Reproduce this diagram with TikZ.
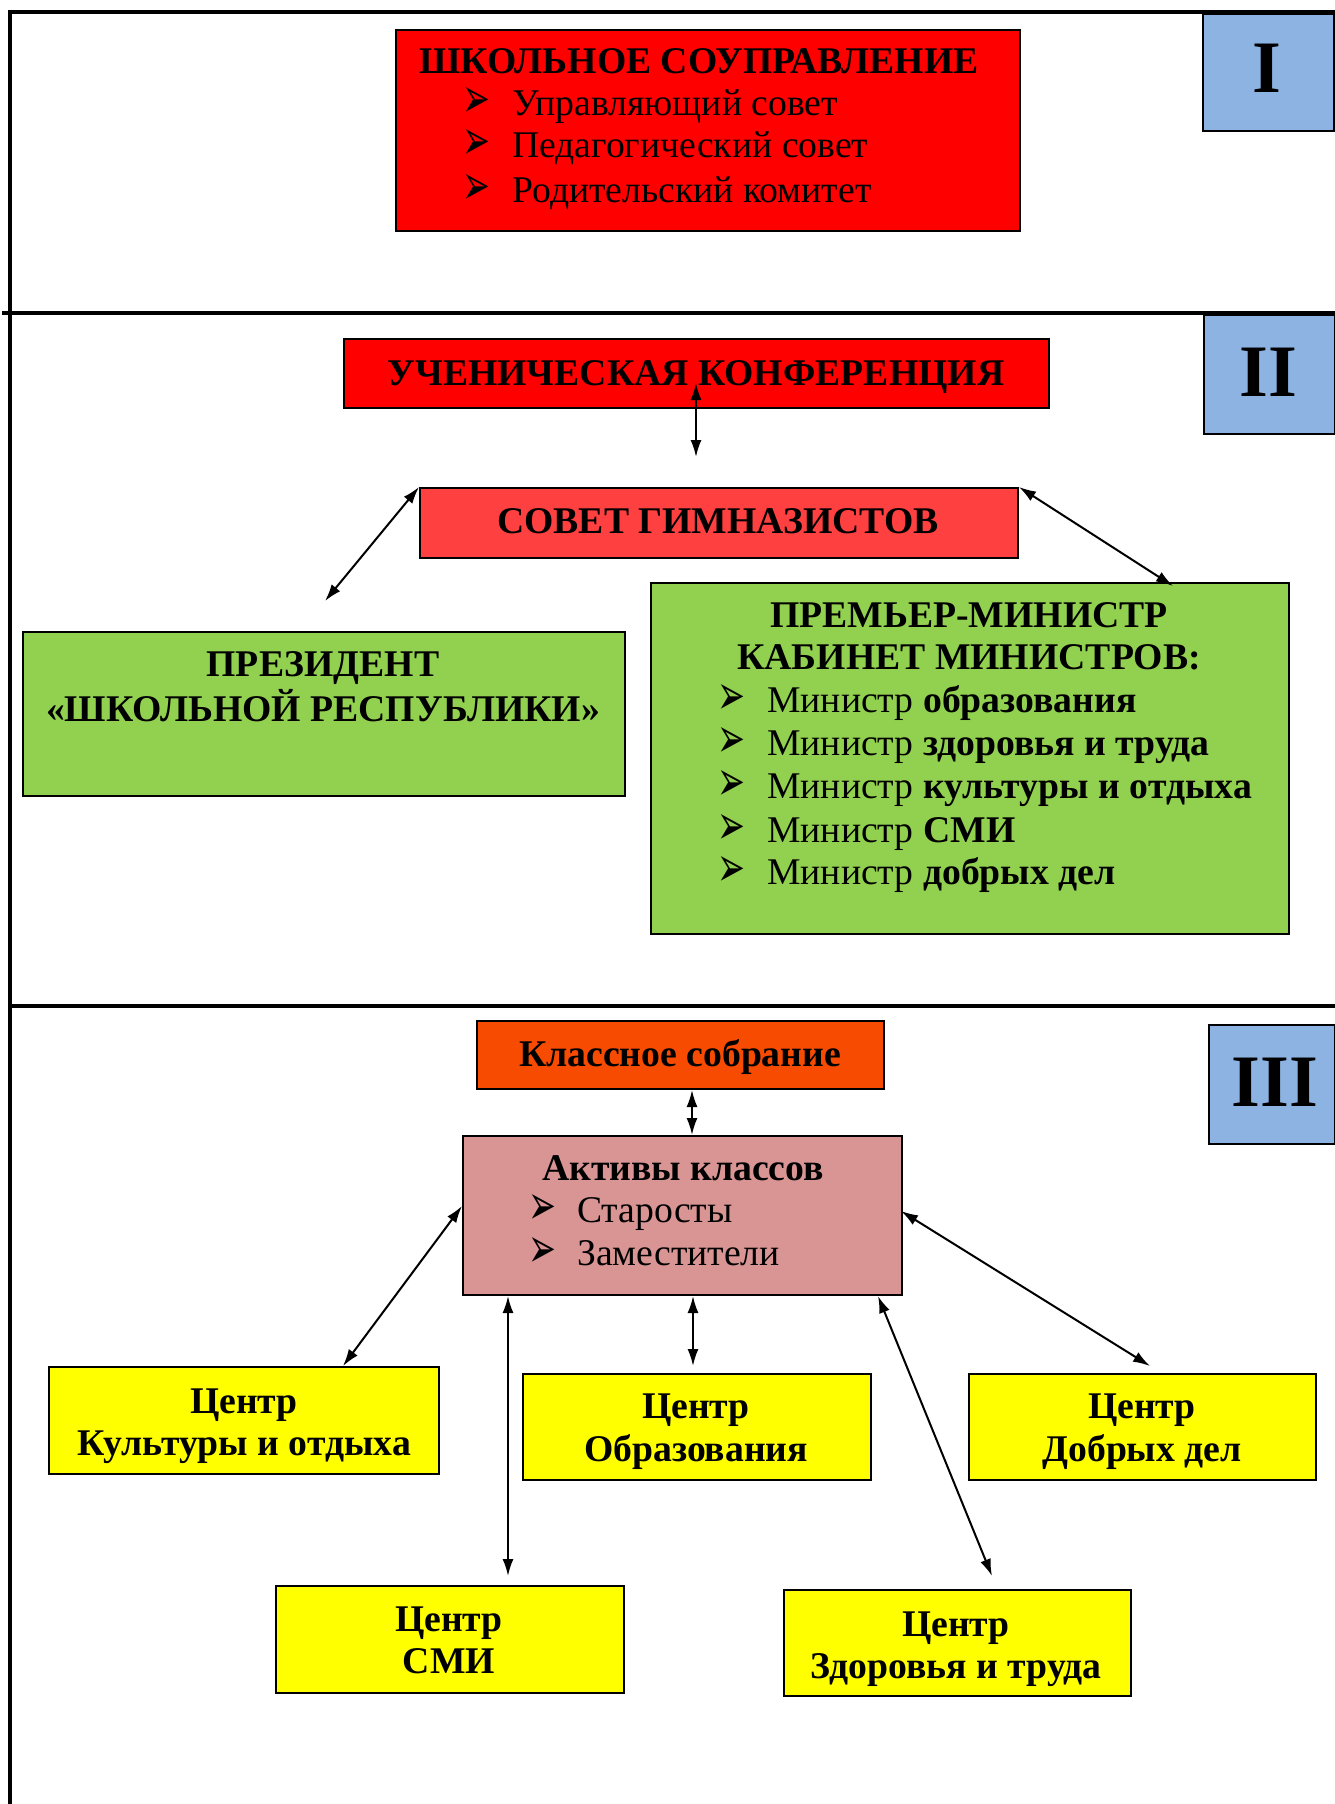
\documentclass[tikz,border=0pt]{standalone}
\usepackage{fontspec}
\setmainfont{Liberation Serif}
\newfontfamily\dingfont{DejaVu Sans}
\usetikzlibrary{arrows.meta}
\definecolor{cred}{HTML}{FF0000}
\definecolor{csovet}{HTML}{FF4040}
\definecolor{cgreen}{HTML}{92D050}
\definecolor{corange}{HTML}{F64B00}
\definecolor{cpink}{HTML}{D99594}
\definecolor{cyel}{HTML}{FFFF00}
\definecolor{cblue}{HTML}{8DB3E2}
\newcommand{\mybul}{\resizebox{28pt}{30pt}{\dingfont ➢}}
\begin{document}
\begin{tikzpicture}[x=1pt,y=-1pt,
  bx/.style={draw=black, line width=2pt, inner sep=0pt, anchor=north west},
  txt/.style={inner sep=0pt, anchor=base, font=\fontsize{37.7}{44}\selectfont},
  ltxt/.style={inner sep=0pt, anchor=base west, font=\fontsize{37.7}{44}\selectfont},
  bul/.style={inner sep=0pt, anchor=base west},
  num/.style={inner sep=0pt, anchor=base, font=\fontsize{74}{80}\selectfont\bfseries},
  frame/.style={line width=4.5pt},
  arr/.style={line width=2pt, {Latex[length=17pt,width=11pt]}-{Latex[length=17pt,width=11pt]}}]
\useasboundingbox (0,0) rectangle (1335,1804);
% frame
\draw[frame] (10,1804) -- (10,12) -- (1335,12);
\draw[frame] (2,313) -- (1335,313);
\draw[frame] (10,1006) -- (1335,1006);
% level numbers
\node[bx, fill=cblue, minimum width=131pt, minimum height=117pt] (n1) at (1202,13) {};
\node[num] (n1t) at (1267,92) {I};
\node[bx, fill=cblue, minimum width=131pt, minimum height=119pt] (n2) at (1203,314) {};
\node[num] (n2t) at (1268,396) {II};
\node[bx, fill=cblue, minimum width=126pt, minimum height=119pt] (n3) at (1208,1024) {};
\node[num] (n3t) at (1275,1106) {III};
% level I
\node[bx, fill=cred, minimum width=624pt, minimum height=201pt] (shk) at (395,29) {};
\node[txt] (shkt) at (699,73) {\bfseries ШКОЛЬНОЕ СОУПРАВЛЕНИЕ};
\node[bul] (shkb1) at (462,117) {\mybul};
\node[ltxt] (shk1) at (512,115) {Управляющий совет};
\node[bul] (shkb2) at (462,159) {\mybul};
\node[ltxt] (shk2) at (512,157) {Педагогический совет};
\node[bul] (shkb3) at (462,204) {\mybul};
\node[ltxt] (shk3) at (512,202) {Родительский комитет};
% level II
\node[bx, fill=cred, minimum width=705pt, minimum height=69pt] (uk) at (343,338) {};
\node[txt] (ukt) at (696,385) {\bfseries УЧЕНИЧЕСКАЯ КОНФЕРЕНЦИЯ};
\node[bx, fill=csovet, minimum width=598pt, minimum height=70pt] (sov) at (419,487) {};
\node[txt] (sovt) at (718,533) {\bfseries СОВЕТ ГИМНАЗИСТОВ};
\node[bx, fill=cgreen, minimum width=602pt, minimum height=164pt] (pres) at (22,631) {};
\node[txt] (prest1) at (323,676) {\bfseries ПРЕЗИДЕНТ};
\node[txt] (prest2) at (323,721) {\bfseries «ШКОЛЬНОЙ РЕСПУБЛИКИ»};
\node[bx, fill=cgreen, minimum width=638pt, minimum height=351pt] (prem) at (650,582) {};
\node[txt] (premt1) at (969,627) {\bfseries ПРЕМЬЕР-МИНИСТР};
\node[txt] (premt2) at (969,669) {\bfseries КАБИНЕТ МИНИСТРОВ:};
\node[bul] (pb1) at (717,714) {\mybul};
\node[ltxt] (p1) at (767,712) {Министр \textbf{образования}};
\node[bul] (pb2) at (717,757) {\mybul};
\node[ltxt] (p2) at (767,755) {Министр \textbf{здоровья и труда}};
\node[bul] (pb3) at (717,800) {\mybul};
\node[ltxt] (p3) at (767,798) {Министр \textbf{культуры и отдыха}};
\node[bul] (pb4) at (717,844) {\mybul};
\node[ltxt] (p4) at (767,842) {Министр \textbf{СМИ}};
\node[bul] (pb5) at (717,886) {\mybul};
\node[ltxt] (p5) at (767,884) {Министр \textbf{добрых дел}};
% level II arrows
\coordinate (ukA) at (696,383);
\coordinate (ukB) at (696,457);
\draw[arr] (ukA) -- (ukB);
\coordinate (presA) at (325,601);
\draw[arr] (sov.north west) -- (presA);
\coordinate (premA) at (1173,586);
\draw[arr] (sov.north east) -- (premA);
% level III
\node[bx, fill=corange, minimum width=407pt, minimum height=68pt] (kl) at (476,1020) {};
\node[txt] (klt) at (680,1066) {\bfseries Классное собрание};
\node[bx, fill=cpink, minimum width=439pt, minimum height=159pt] (ak) at (462,1135) {};
\node[txt] (akt) at (683,1180) {\bfseries Активы классов};
\node[bul] (akb1) at (528,1224) {\mybul};
\node[ltxt] (ak1) at (577,1222) {Старосты};
\node[bul] (akb2) at (528,1267) {\mybul};
\node[ltxt] (ak2) at (577,1265) {Заместители};
\node[bx, fill=cyel, minimum width=390pt, minimum height=107pt] (cult) at (48,1366) {};
\node[txt] (cult1) at (244,1413) {\bfseries Центр};
\node[txt] (cult2) at (244,1455) {\bfseries Культуры и отдыха};
\node[bx, fill=cyel, minimum width=348pt, minimum height=106pt] (obr) at (522,1373) {};
\node[txt] (obr1) at (696,1418) {\bfseries Центр};
\node[txt] (obr2) at (696,1461) {\bfseries Образования};
\node[bx, fill=cyel, minimum width=347pt, minimum height=106pt] (dobr) at (968,1373) {};
\node[txt] (dobr1) at (1142,1418) {\bfseries Центр};
\node[txt] (dobr2) at (1142,1461) {\bfseries Добрых дел};
\node[bx, fill=cyel, minimum width=348pt, minimum height=107pt] (smi) at (275,1585) {};
\node[txt] (smi1) at (449,1631) {\bfseries Центр};
\node[txt] (smi2) at (449,1673) {\bfseries СМИ};
\node[bx, fill=cyel, minimum width=347pt, minimum height=106pt] (zdr) at (783,1589) {};
\node[txt] (zdr1) at (956,1636) {\bfseries Центр};
\node[txt] (zdr2) at (956,1678) {\bfseries Здоровья и труда};
% level III arrows
\coordinate (xK) at (692,0);
\draw[arr] (xK |- kl.south) -- (xK |- ak.north);
\coordinate (akW) at (462,1206);
\coordinate (cultA) at (343,1366);
\draw[arr] (akW) -- (cultA);
\coordinate (xS) at (508,0);
\coordinate (smiA) at (508,1576);
\draw[arr] (xS |- ak.south) -- (smiA);
\coordinate (xO) at (693,0);
\coordinate (obrA) at (693,1366);
\draw[arr] (xO |- ak.south) -- (obrA);
\coordinate (xZ) at (878,0);
\coordinate (zdrA) at (992,1576);
\draw[arr] (xZ |- ak.south) -- (zdrA);
\coordinate (akE) at (901,1211);
\coordinate (dobrA) at (1150,1366);
\draw[arr] (akE) -- (dobrA);
\end{tikzpicture}
\end{document}
